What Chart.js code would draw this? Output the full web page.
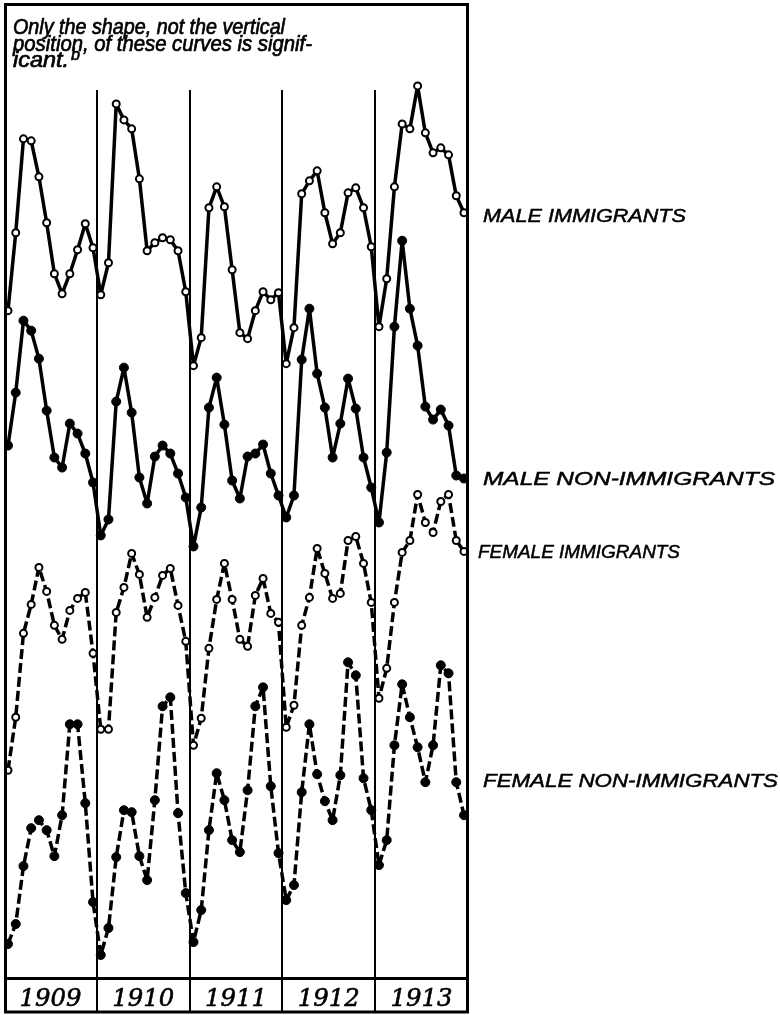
<!DOCTYPE html>
<html>
<head>
<meta charset="utf-8">
<script src="https://cdn.jsdelivr.net/npm/chart.js@4/dist/chart.umd.min.js"></script>
<style>
  body { margin: 0; background: #fff; }
  #wrap { width: 780px; height: 1015px; position: relative; }
</style>
</head>
<body>
<div id="wrap"><canvas id="chart"></canvas></div>
<script>
// Monthly series, Jan 1909 .. Dec 1913 (relative units, only the shape matters)
const years = ['1909', '1910', '1911', '1912', '1913'];

const maleImmigrants = [
    690, 768, 862, 860, 824, 778, 727, 707, 727, 751, 777, 753,
    706, 738, 897, 881, 872, 822, 750, 758, 763, 761, 750, 709,
    635, 663, 793, 814, 794, 731, 668, 662, 690, 709, 701, 708,
    637, 673, 807, 820, 830, 788, 757, 768, 808, 813, 793, 754,
    674, 722, 814, 877, 872, 915, 868, 848, 853, 846, 805, 788
];
const maleNonImmigrants = [
    555, 608, 680, 670, 642, 590, 543, 533, 577, 567, 547, 518,
    465, 481, 599, 633, 588, 523, 497, 544, 555, 547, 527, 503,
    454, 493, 593, 623, 576, 520, 502, 544, 547, 556, 527, 505,
    483, 505, 641, 692, 627, 593, 543, 577, 622, 592, 543, 513,
    478, 548, 674, 760, 692, 655, 594, 581, 591, 575, 525, 522
];
const femaleImmigrants = [
    230, 283, 367, 396, 433, 409, 375, 361, 390, 402, 408, 347,
    271, 271, 388, 413, 447, 426, 383, 403, 425, 432, 395, 359,
    255, 282, 352, 401, 437, 401, 361, 354, 405, 422, 387, 378,
    273, 295, 375, 403, 452, 427, 402, 407, 460, 464, 437, 398,
    302, 332, 398, 448, 460, 506, 478, 468, 499, 506, 460, 449
];
const femaleNonImmigrants = [
    56, 76, 134, 172, 180, 170, 144, 185, 276, 276, 197, 98,
    45, 72, 143, 190, 188, 144, 120, 200, 294, 303, 187, 107,
    58, 90, 170, 227, 200, 160, 148, 210, 294, 313, 214, 147,
    100, 115, 208, 276, 226, 199, 180, 225, 338, 325, 222, 190,
    135, 160, 255, 316, 283, 253, 218, 255, 335, 327, 218, 185
];

const seriesLabels = ['MALE IMMIGRANTS', 'MALE NON-IMMIGRANTS', 'FEMALE IMMIGRANTS', 'FEMALE NON-IMMIGRANTS'];
const noteLines = ['Only the shape, not the vertical', 'position, of these curves is signif-', 'icant.'];

function toPoints(values) {
    return values.map((v, i) => ({ x: i, y: v }));
}

// draw text squeezed/stretched to a given width, with a light stroke to thicken it
function fitText(ctx, text, x, y, w, font, stroke) {
    ctx.font = font;
    const m = ctx.measureText(text).width;
    ctx.save();
    ctx.translate(x, y);
    ctx.scale(w / m, 1);
    ctx.fillText(text, 0, 0);
    if (stroke) {
        ctx.lineWidth = stroke;
        ctx.strokeText(text, 0, 0);
    }
    ctx.restore();
}

const framePlugin = {
    id: 'frame',
    beforeDatasetsDraw(chart) {
        const { ctx, scales: { x } } = chart;
        ctx.save();
        ctx.strokeStyle = '#000';
        ctx.lineWidth = 2;
        for (let i = 1; i < years.length; i++) {
            const px = Math.round(x.getPixelForValue(i * 12 - 0.5));
            ctx.beginPath();
            ctx.moveTo(px, 90);
            ctx.lineTo(px, 1012);
            ctx.stroke();
        }
        ctx.restore();
    },
    afterDraw(chart) {
        const { ctx, scales: { x } } = chart;
        ctx.save();
        ctx.strokeStyle = '#000';
        ctx.fillStyle = '#000';

        // outer frame + year row
        ctx.lineWidth = 3;
        ctx.strokeRect(5.5, 4.5, 462, 1007.5);
        ctx.beginPath();
        ctx.moveTo(5, 978.5);
        ctx.lineTo(468, 978.5);
        ctx.stroke();

        // year labels
        ctx.textBaseline = 'alphabetic';
        years.forEach((yr, i) => {
            const cx = x.getPixelForValue(i * 12 + 5.5);
            fitText(ctx, yr, cx - 31, 1006, 62, 'italic 25px "DejaVu Serif"', 0.6);
        });

        // note in upper left
        const noteW = [272, 299, 56];
        noteLines.forEach((t, i) => {
            fitText(ctx, t, 13, 34 + i * 16.5, noteW[i], 'italic 22px "Liberation Sans"', 0.7);
        });
        fitText(ctx, 'b', 71, 60, 9, 'italic 17px "Liberation Sans"', 0.6);

        // curve names on the right
        const lx = [483, 483, 478, 483];
        const ly = [222, 485, 558, 787];
        const lw = [203, 292, 202, 295];
        seriesLabels.forEach((t, i) => {
            fitText(ctx, t, lx[i], ly[i], lw[i], 'italic 19px "Liberation Sans"', 0.5);
        });
        ctx.restore();
    }
};

const openPoint = {
    borderColor: '#000',
    borderWidth: 3.5,
    borderJoinStyle: 'round',
    borderCapStyle: 'butt',
    pointRadius: 3.5,
    pointBorderWidth: 2,
    pointBackgroundColor: '#fff',
    pointBorderColor: '#000'
};
const filledPoint = {
    borderColor: '#000',
    borderWidth: 3.5,
    borderJoinStyle: 'round',
    borderCapStyle: 'butt',
    pointRadius: 4.5,
    pointBorderWidth: 1,
    pointBackgroundColor: '#000',
    pointBorderColor: '#000'
};

new Chart(document.getElementById('chart'), {
    type: 'line',
    data: {
        datasets: [
            { label: seriesLabels[0], data: toPoints(maleImmigrants), ...openPoint },
            { label: seriesLabels[1], data: toPoints(maleNonImmigrants), ...filledPoint },
            { label: seriesLabels[2], data: toPoints(femaleImmigrants), ...openPoint, borderDash: [10, 4] },
            { label: seriesLabels[3], data: toPoints(femaleNonImmigrants), ...filledPoint, borderDash: [10, 4] }
        ]
    },
    options: {
        responsive: true,
        maintainAspectRatio: false,
        animation: false,
        layout: { padding: { left: 6, right: 313, top: 5, bottom: 37 } },
        elements: { line: { tension: 0 } },
        plugins: {
            legend: { display: false },
            tooltip: { enabled: false }
        },
        scales: {
            x: { type: 'linear', display: false, min: -0.26, max: 59.39 },
            y: { display: false, min: 22, max: 995 }
        }
    },
    plugins: [framePlugin]
});
</script>
</body>
</html>
